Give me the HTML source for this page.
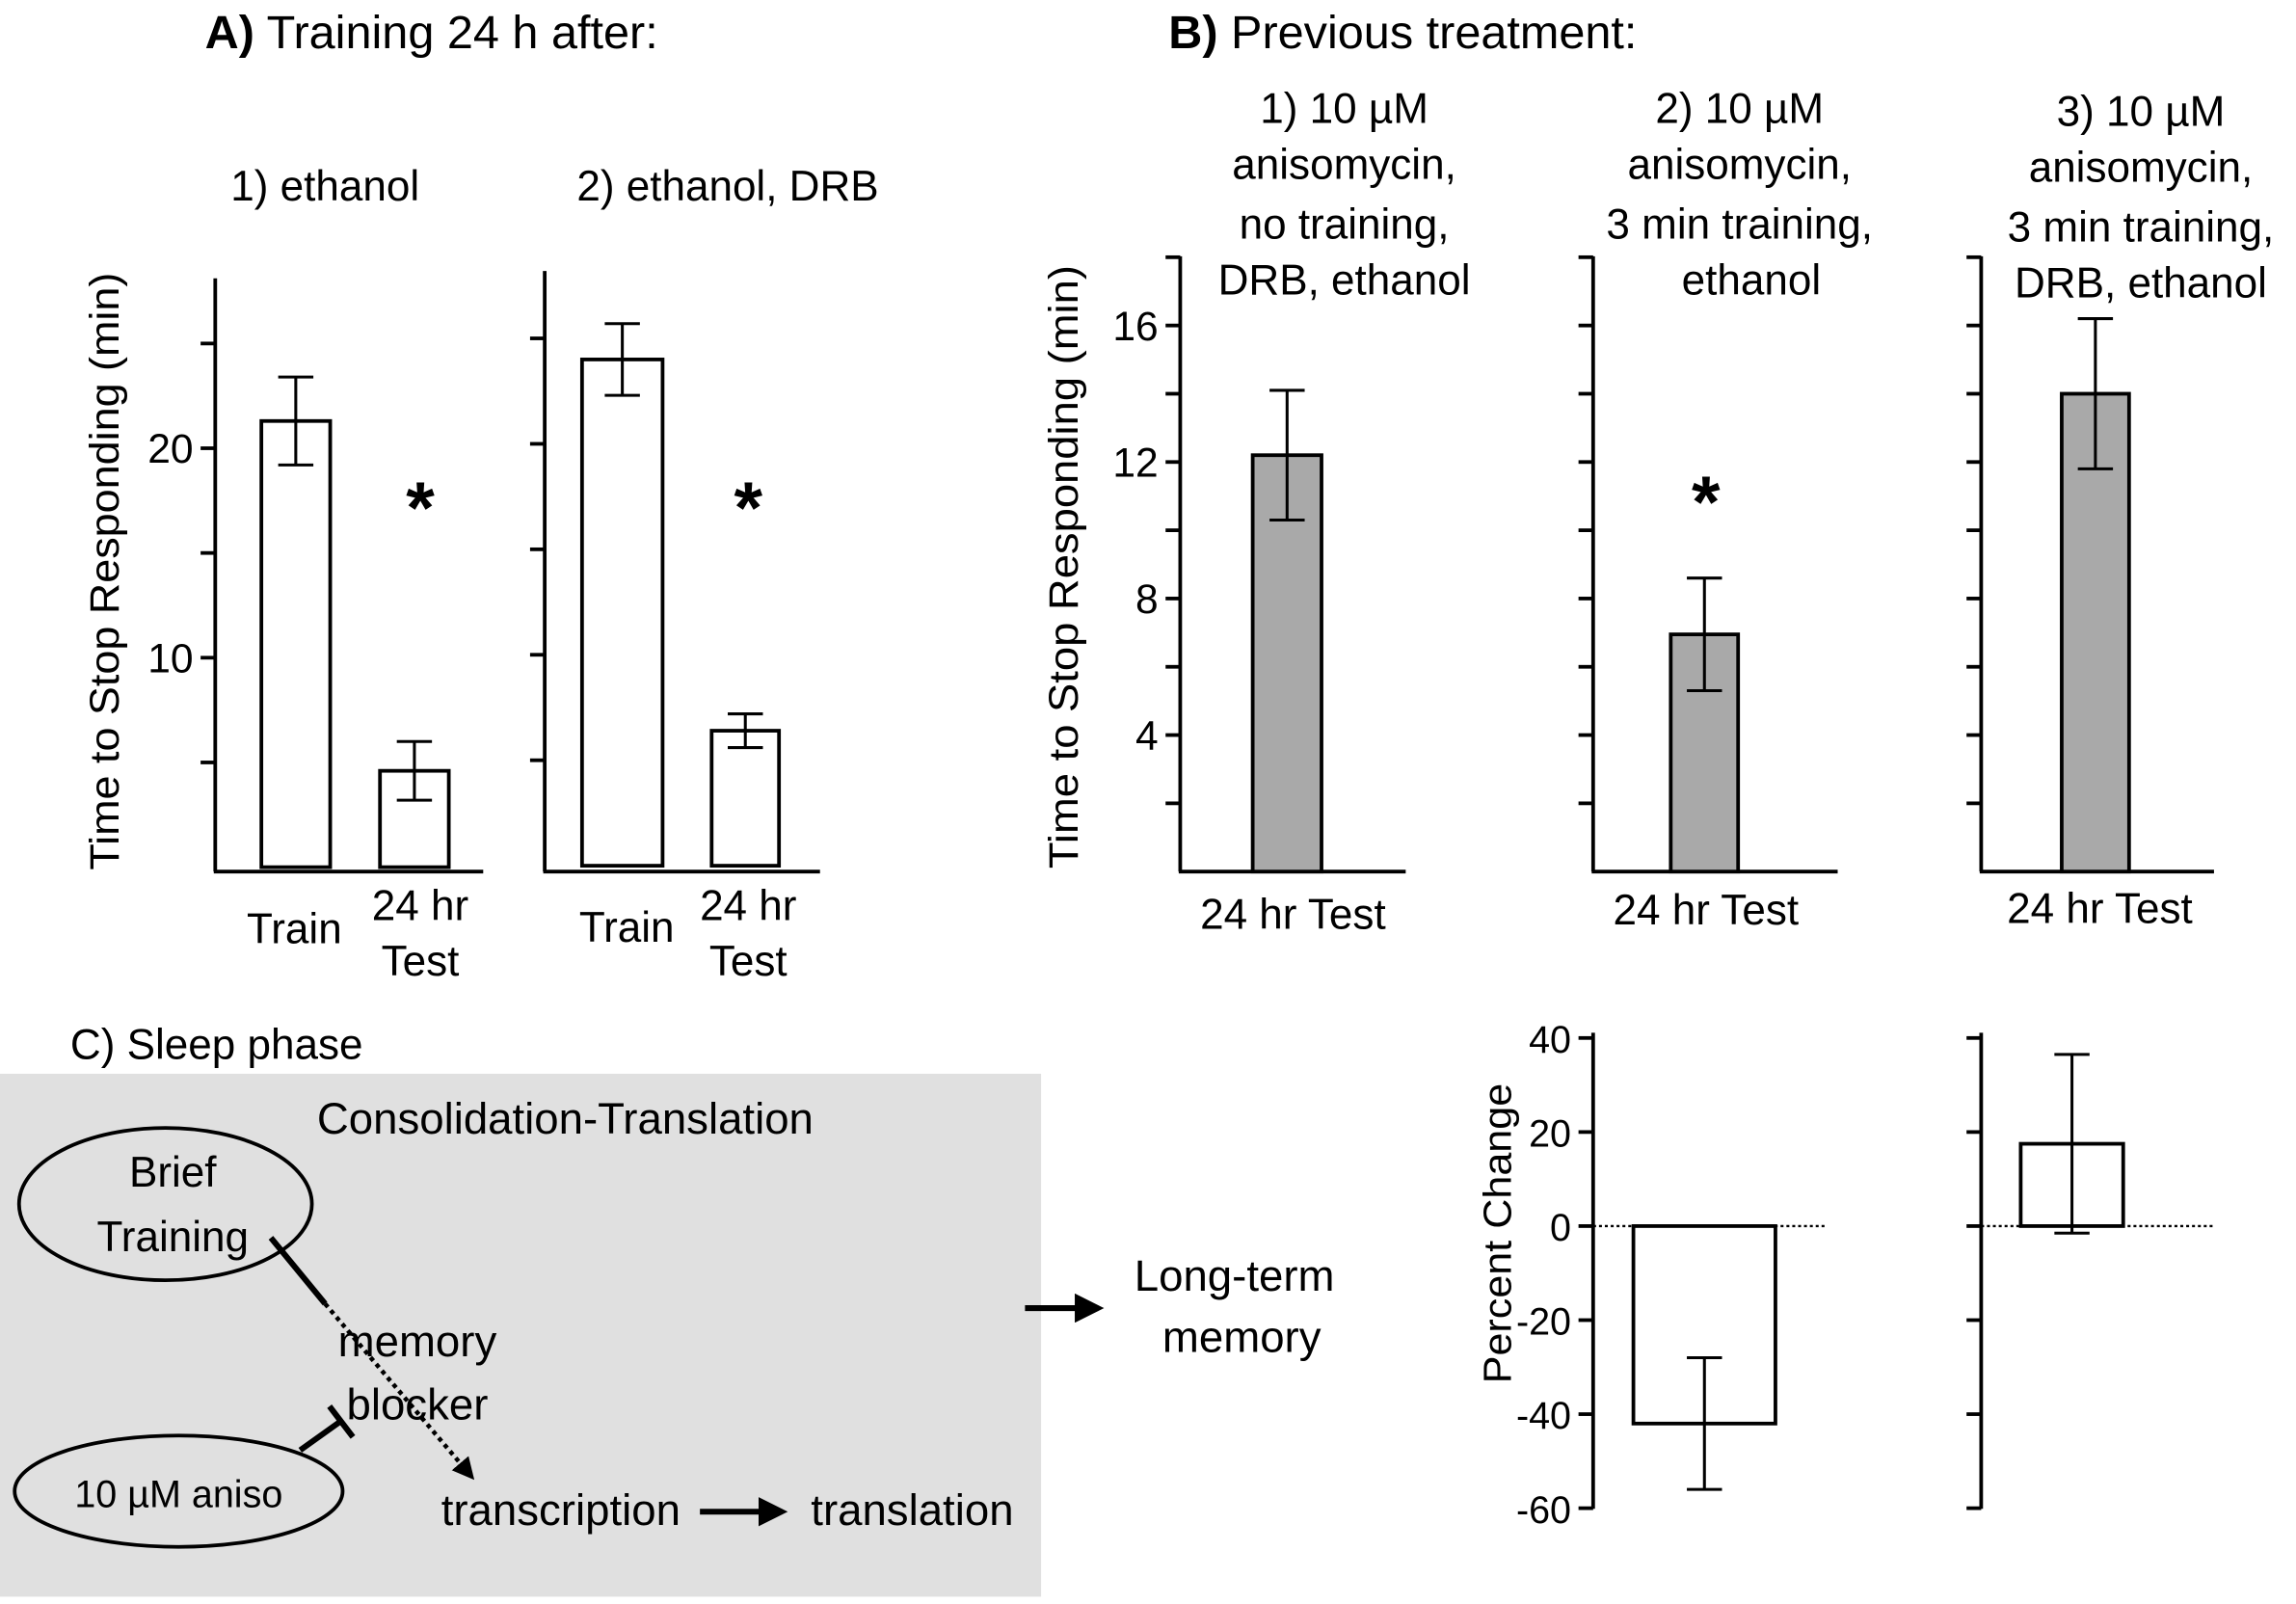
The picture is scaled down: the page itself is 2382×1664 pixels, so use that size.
<!DOCTYPE html>
<html><head><meta charset="utf-8"><style>
html,body{margin:0;padding:0;background:#fff}
svg{display:block}
text{font-family:"Liberation Sans",sans-serif;fill:#000}
</style></head><body>
<svg id="fig" width="2382" height="1664" viewBox="0 0 1568 1095" preserveAspectRatio="none" xmlns="http://www.w3.org/2000/svg">
<defs><marker id="ah" viewBox="0 0 10 10" refX="8" refY="5" markerWidth="5" markerHeight="5" orient="auto"><path d="M0,0 L10,5 L0,10 z" fill="#000"/></marker></defs>
<g id="static">
<text x="140" y="33" font-size="32"><tspan font-weight="bold">A)</tspan> Training 24 h after:</text>
<text x="798" y="33" font-size="32"><tspan font-weight="bold">B)</tspan> Previous treatment:</text>
<text x="222" y="137" font-size="29" text-anchor="middle">1) ethanol</text>
<text x="497" y="137" font-size="29" text-anchor="middle">2) ethanol, DRB</text>
<g font-size="29" text-anchor="middle">
<text><tspan x="918" y="84">1) 10 µM</tspan><tspan x="918" y="122">anisomycin,</tspan><tspan x="918" y="163">no training,</tspan><tspan x="918" y="201">DRB, ethanol</tspan></text>
<text><tspan x="1188" y="84">2) 10 µM</tspan><tspan x="1188" y="122">anisomycin,</tspan><tspan x="1188" y="163">3 min training,</tspan><tspan x="1196" y="201">ethanol</tspan></text>
<text><tspan x="1462" y="86">3) 10 µM</tspan><tspan x="1462" y="124">anisomycin,</tspan><tspan x="1462" y="165">3 min training,</tspan><tspan x="1462" y="203">DRB, ethanol</tspan></text>
</g>
<text transform="translate(81,390) rotate(-90)" font-size="28" text-anchor="middle" textLength="408" lengthAdjust="spacingAndGlyphs">Time to Stop Responding (min)</text>
<text transform="translate(736,387) rotate(-90)" font-size="28" text-anchor="middle" textLength="412" lengthAdjust="spacingAndGlyphs">Time to Stop Responding (min)</text>
<text transform="translate(1032,842) rotate(-90)" font-size="27" text-anchor="middle" textLength="205" lengthAdjust="spacingAndGlyphs">Percent Change</text>
<!-- diagram -->
<text x="48" y="723" font-size="29">C) Sleep phase</text>
<rect x="0" y="733" width="711" height="357" fill="#e0e0e0"/>
<text x="386" y="774" font-size="30" text-anchor="middle">Consolidation-Translation</text>
<ellipse cx="113" cy="822" rx="100" ry="52" fill="none" stroke="#000" stroke-width="2.5"/>
<text font-size="29" text-anchor="middle"><tspan x="118" y="810">Brief</tspan><tspan x="118" y="854">Training</tspan></text>
<ellipse cx="122" cy="1018" rx="112" ry="38" fill="none" stroke="#000" stroke-width="2.5"/>
<text x="122" y="1029" font-size="26" text-anchor="middle">10 µM aniso</text>
<line x1="185" y1="845" x2="222" y2="890" stroke="#000" stroke-width="4"/>
<line x1="222" y1="890" x2="322" y2="1008" stroke="#000" stroke-width="3" stroke-dasharray="3,3" marker-end="url(#ah)"/>
<line x1="205" y1="990" x2="233" y2="970" stroke="#000" stroke-width="4"/>
<line x1="225" y1="960" x2="241" y2="981" stroke="#000" stroke-width="4"/>
<text font-size="30" text-anchor="middle"><tspan x="285" y="926">memory</tspan><tspan x="285" y="969">blocker</tspan></text>
<text x="383" y="1041" font-size="30" text-anchor="middle">transcription</text>
<line x1="478" y1="1032" x2="534" y2="1032" stroke="#000" stroke-width="4" marker-end="url(#ah)"/>
<text x="623" y="1041" font-size="30" text-anchor="middle">translation</text>
<line x1="700" y1="893" x2="750" y2="893" stroke="#000" stroke-width="4" marker-end="url(#ah)"/>
<text font-size="30" text-anchor="middle"><tspan x="843" y="881">Long-term</tspan><tspan x="848" y="923">memory</tspan></text>
</g>
<g id="charts"></g>
</svg>
<script>
// Panel A values
const aCats = ["Train", "24 hr Test"];
const a1Values = [21.3, 4.6];
const a1Errors = [2.1, 1.4];
const a2Values = [24.0, 6.4];
const a2Errors = [1.7, 0.8];
const aTickLabels = ["10", "20"];
// Panel B values
const bCats = ["24 hr Test"];
const b1Values = [12.2];
const b1Errors = [1.9];
const b2Values = [6.95];
const b2Errors = [1.65];
const b3Values = [14.0];
const b3Errors = [2.2];
const bTickLabels = ["4", "8", "12", "16"];
// Panel C percent change
const cValues = [-42, 17.5];
const cErrors = [14, 19];
const cTickLabels = ["-60", "-40", "-20", "0", "20", "40"];

const NS = "http://www.w3.org/2000/svg";
const root = document.getElementById("charts");
function mk(tag, attrs, parent) {
  const e = document.createElementNS(NS, tag);
  for (const k in attrs) e.setAttribute(k, attrs[k]);
  (parent || root).appendChild(e);
  return e;
}
function yScale(y0, pxPerUnit, zero) { return v => y0 - (v - zero) * pxPerUnit; }

function drawAxis(name, x, yTop, yBot, xEnd, ticks, labels, sc, fontSize) {
  const g = mk("g", {});
  
  
  mk("line", {x1: x, y1: yTop, x2: x, y2: yBot, stroke: "#000", "stroke-width": 2.5}, g);
  if (xEnd !== null) mk("line", {x1: x - 1, y1: yBot, x2: xEnd, y2: yBot, stroke: "#000", "stroke-width": 2.5}, g);
  ticks.forEach(t => {
    mk("line", {x1: x - 10, y1: sc(t), x2: x, y2: sc(t), stroke: "#000", "stroke-width": 2.5}, g);
  });
  labels.forEach(l => {
    const t = mk("text", {x: x - 15, y: sc(+l) + 10, "font-size": fontSize, "text-anchor": "end"}, g);
    t.textContent = l;
  });
}
function drawBar(name, cx, w, v, err, sc, fill, base) {
  const g = mk("g", {});
  
  
  const y0 = sc(base), y1 = sc(v);
  mk("rect", {x: cx - w / 2, y: Math.min(y0, y1), width: w, height: Math.abs(y0 - y1), fill: fill, stroke: "#000", "stroke-width": 2.5}, g);
  const yh = sc(v + err), yl = sc(v - err);
  mk("line", {x1: cx, y1: yh, x2: cx, y2: yl, stroke: "#000", "stroke-width": 2}, g);
  mk("line", {x1: cx - 12, y1: yh, x2: cx + 12, y2: yh, stroke: "#000", "stroke-width": 2}, g);
  mk("line", {x1: cx - 12, y1: yl, x2: cx + 12, y2: yl, stroke: "#000", "stroke-width": 2}, g);
}
function label(name, x, y, txt, size) {
  const t = mk("text", {x: x, y: y, "font-size": size, "text-anchor": "middle"});
  
  
  t.textContent = txt;
}
function star(name, x, y) {
  const t = mk("text", {x: x, y: y, "font-size": 50, "font-weight": "bold", "text-anchor": "middle"});
  
  
  t.textContent = "*";
}

// A1
const sA1 = yScale(592, 14.3, 0);
drawAxis("a1-axes", 147, 190, 595, 330, [5, 10, 15, 20, 25], aTickLabels, sA1, 28);
drawBar("a1-bar-train", 202, 47, a1Values[0], a1Errors[0], sA1, "#fff", 0);
drawBar("a1-bar-test", 283, 47, a1Values[1], a1Errors[1], sA1, "#fff", 0);
label("a1-x-label-train", 201, 644, aCats[0], 29);
label("a1-x-label-test-1", 287, 628, "24 hr", 29);
label("a1-x-label-test-2", 287, 666, "Test", 29);
star("a1-significance", 287, 364);
// A2
const sA2 = yScale(591, 14.4, 0);
drawAxis("a2-axes", 372, 185, 595, 560, [5, 10, 15, 20, 25], [], sA2, 28);
drawBar("a2-bar-train", 425, 55, a2Values[0], a2Errors[0], sA2, "#fff", 0);
drawBar("a2-bar-test", 509, 46, a2Values[1], a2Errors[1], sA2, "#fff", 0);
label("a2-x-label-train", 428, 643, aCats[0], 29);
label("a2-x-label-test-1", 511, 628, "24 hr", 29);
label("a2-x-label-test-2", 511, 666, "Test", 29);
star("a2-significance", 511, 364);
// B
const bTicks = [2, 4, 6, 8, 10, 12, 14, 16, 18];
const sB = yScale(595, 23.3, 0);
drawAxis("b1-axes", 806, 175, 595, 960, bTicks, bTickLabels, sB, 28);
drawBar("b1-bar", 879, 47, b1Values[0], b1Errors[0], sB, "#a9a9a9", 0);
label("b1-x-label", 883, 634, bCats[0], 29);
drawAxis("b2-axes", 1088, 175, 595, 1255, bTicks, [], sB, 28);
drawBar("b2-bar", 1164, 46, b2Values[0], b2Errors[0], sB, "#a9a9a9", 0);
label("b2-x-label", 1165, 631, bCats[0], 29);
star("b2-significance", 1165, 360);
drawAxis("b3-axes", 1353, 175, 595, 1512, bTicks, [], sB, 28);
drawBar("b3-bar", 1431, 46, b3Values[0], b3Errors[0], sB, "#a9a9a9", 0);
label("b3-x-label", 1434, 630, bCats[0], 29);
// C percent change
const sC = yScale(837, 3.21, 0);
const cTicks = [-60, -40, -20, 0, 20, 40];
drawAxis("c1-axes", 1088, 705, 1030, null, cTicks, cTickLabels, sC, 26);
drawAxis("c2-axes", 1353, 705, 1030, null, cTicks, [], sC, 26);
[[1088, 1247], [1353, 1512]].forEach((r, i) => {
  const l = mk("line", {x1: r[0], y1: sC(0), x2: r[1], y2: sC(0), stroke: "#000", "stroke-width": 1.5, "stroke-dasharray": "2,2"});
  
  
});
drawBar("c1-bar", 1164, 97, cValues[0], cErrors[0], sC, "#fff", 0);
drawBar("c2-bar", 1415, 70, cValues[1], cErrors[1], sC, "#fff", 0);
</script>
</body></html>
